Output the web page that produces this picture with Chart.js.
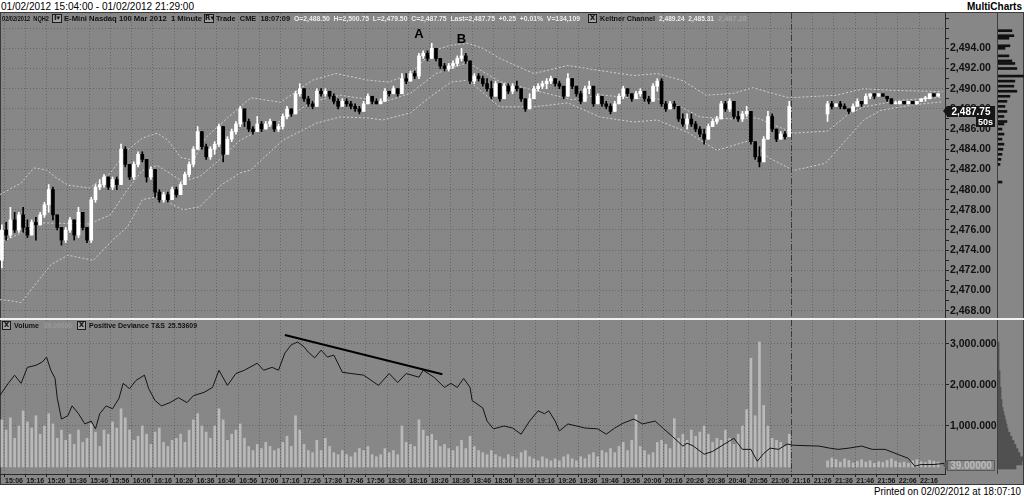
<!DOCTYPE html>
<html>
<head>
<meta charset="utf-8">
<script src="https://cdn.jsdelivr.net/npm/chart.js@4.4.1/dist/chart.umd.min.js"></script>
<style>
  html, body { margin: 0; padding: 0; background: #fff; }
  body { position: relative; width: 1024px; height: 497px; overflow: hidden; font-family: 'Liberation Sans', Arial, sans-serif; }
  #frame { position: absolute; left: 0; top: 12px; width: 1022px; height: 471px; background: #878787; border: 1px solid #3a3a3a; }
  canvas { position: absolute; }
  .t { position: absolute; white-space: pre; line-height: 1; transform-origin: 0 50%; }
  .box { position: absolute; box-sizing: border-box; border: 1px solid #1c1c1c; background: #a2a2a2; color: #111;
         font: bold 7px 'DejaVu Sans', sans-serif; text-align: center; }
  .line { position: absolute; }
</style>
</head>
<body>
<div id="frame"></div>
<canvas id="price" width="997" height="305" style="left:0;top:13px"></canvas>
<canvas id="priceProfile" width="26" height="305" style="left:998px;top:13px"></canvas>
<canvas id="lower" width="997" height="165" style="left:0;top:320px"></canvas>
<canvas id="lowerProfile" width="26" height="154" style="left:998px;top:320px"></canvas>
<div class="line" style="left:0;top:318px;width:1024px;height:2px;background:#f2f2f2"></div>
<div class="line" style="left:997px;top:13px;width:1px;height:305px;background:#3e3e3e"></div>
<div class="line" style="left:997px;top:320px;width:1px;height:154px;background:#3e3e3e"></div>
<script>
// 2-minute bars, two sessions (gap between 21:16 and 21:33)
const barMinutes = 2;
const sessionStarts = ['15:05', '21:33'];
const sessionLengths = [186, 27];

const opens = [
  2473.0, 2476.0, 2475.5, 2477.0, 2476.0, 2477.5, 2476.25, 2475.5, 2476.75, 2476.5,
  2477.5, 2478.5, 2480.0, 2477.5, 2476.25, 2475.0, 2476.0, 2477.0, 2475.5, 2477.75,
  2476.25, 2475.0, 2479.0, 2480.25, 2480.5, 2481.25, 2480.25, 2481.0, 2480.5, 2484.0,
  2482.5, 2481.25, 2482.5, 2483.5, 2483.0, 2481.25, 2482.0, 2479.75, 2479.0, 2479.5,
  2479.0, 2480.0, 2479.5, 2480.5, 2481.5, 2482.5, 2484.0, 2485.75, 2484.25, 2483.25,
  2484.0, 2484.5, 2486.25, 2483.5, 2485.0, 2485.75, 2486.5, 2488.0, 2486.75, 2486.0,
  2485.75, 2486.5, 2486.0, 2486.5, 2486.75, 2486.0, 2486.25, 2487.25, 2488.0, 2487.5,
  2489.5, 2490.0, 2489.0, 2488.5, 2488.25, 2489.75, 2489.5, 2489.75, 2489.25, 2488.75,
  2488.25, 2488.75, 2488.5, 2488.25, 2488.0, 2487.75, 2488.5, 2489.25, 2488.75, 2488.5,
  2488.75, 2489.75, 2489.5, 2490.0, 2489.5, 2491.0, 2490.75, 2491.5, 2491.25, 2493.25,
  2493.5, 2493.0, 2494.0, 2493.0, 2492.25, 2492.0, 2492.25, 2492.5, 2493.0, 2493.25,
  2492.75, 2490.75, 2491.25, 2491.0, 2490.5, 2490.0, 2489.25, 2490.5, 2489.0, 2490.25,
  2489.75, 2490.25, 2490.0, 2489.0, 2488.0, 2489.0, 2490.0, 2490.25, 2490.5, 2490.75,
  2491.0, 2490.5, 2490.25, 2489.25, 2491.0, 2490.25, 2489.5, 2488.75, 2490.0, 2490.25,
  2488.5, 2489.25, 2488.5, 2488.25, 2487.75, 2488.5, 2489.25, 2490.0, 2489.5, 2489.0,
  2489.5, 2489.75, 2489.0, 2488.75, 2490.25, 2490.75, 2488.5, 2488.0, 2488.5, 2488.25,
  2487.0, 2486.5, 2487.0, 2486.5, 2486.0, 2485.5, 2485.0, 2486.25, 2486.75, 2487.0,
  2488.5, 2488.0, 2488.75, 2487.25, 2487.0, 2487.5, 2487.75, 2484.75, 2483.25, 2482.75,
  2485.0, 2487.25, 2486.0, 2485.0, 2485.5, 2485.25,
  2487.5, 2488.5, 2488.25, 2488.5, 2488.25, 2488.0, 2487.75, 2488.25, 2488.75, 2488.5,
  2489.25, 2489.5, 2489.25, 2489.5, 2489.25, 2489.0, 2488.5, 2488.5, 2488.75, 2488.5,
  2488.75, 2488.5, 2488.75, 2489.0, 2489.0, 2489.5, 2489.25
];
const highs = [
  2476.5, 2476.75, 2478.25, 2477.75, 2477.75, 2478.25, 2477.0, 2477.0, 2477.25, 2477.75,
  2478.75, 2480.5, 2480.25, 2477.5, 2476.25, 2476.25, 2477.25, 2477.0, 2478.25, 2477.75,
  2476.25, 2479.25, 2480.5, 2481.0, 2481.5, 2481.25, 2481.25, 2481.25, 2484.5, 2484.25,
  2482.5, 2482.75, 2483.75, 2483.75, 2483.0, 2482.25, 2482.0, 2480.0, 2479.75, 2479.75,
  2480.25, 2480.25, 2480.75, 2481.75, 2482.75, 2484.25, 2486.25, 2485.75, 2484.5, 2484.25,
  2484.75, 2486.5, 2486.25, 2485.25, 2486.0, 2486.75, 2488.25, 2488.0, 2487.0, 2486.25,
  2487.25, 2486.75, 2486.75, 2487.0, 2486.75, 2486.5, 2487.5, 2488.25, 2488.0, 2489.75,
  2490.5, 2490.0, 2489.25, 2488.75, 2490.0, 2490.0, 2490.0, 2489.75, 2489.5, 2489.0,
  2489.0, 2489.0, 2488.75, 2488.5, 2488.25, 2488.75, 2489.5, 2489.25, 2489.0, 2489.0,
  2490.0, 2489.75, 2490.25, 2490.0, 2491.5, 2491.5, 2491.75, 2491.75, 2493.5, 2493.75,
  2493.75, 2494.5, 2494.0, 2493.0, 2492.5, 2492.5, 2492.75, 2493.25, 2494.0, 2493.5,
  2492.75, 2491.5, 2491.5, 2491.25, 2491.0, 2490.75, 2490.75, 2490.5, 2490.5, 2490.5,
  2490.5, 2490.75, 2490.0, 2489.0, 2489.5, 2490.25, 2490.5, 2490.75, 2491.0, 2491.25,
  2491.0, 2490.75, 2490.25, 2491.5, 2491.0, 2490.25, 2489.75, 2490.25, 2490.75, 2490.25,
  2489.5, 2489.25, 2488.75, 2488.5, 2488.75, 2489.5, 2490.25, 2490.0, 2489.5, 2489.75,
  2490.0, 2489.75, 2489.25, 2490.5, 2491.0, 2491.0, 2488.75, 2488.75, 2488.75, 2488.25,
  2487.5, 2487.5, 2487.5, 2486.75, 2486.25, 2486.0, 2486.5, 2487.0, 2487.25, 2488.75,
  2488.75, 2489.0, 2488.75, 2487.75, 2487.75, 2488.25, 2487.75, 2484.75, 2484.25, 2485.25,
  2487.75, 2487.5, 2486.0, 2485.75, 2485.75, 2488.75,
  2488.75, 2488.75, 2488.5, 2488.75, 2488.5, 2488.0, 2488.5, 2489.0, 2488.75, 2489.5,
  2489.5, 2489.5, 2489.5, 2489.5, 2489.25, 2489.0, 2488.75, 2488.75, 2488.75, 2488.75,
  2488.75, 2488.75, 2489.0, 2489.25, 2489.5, 2489.5, 2489.5
];
const lows = [
  2472.25, 2475.0, 2475.25, 2475.75, 2475.75, 2475.75, 2475.25, 2475.5, 2475.0, 2476.5,
  2477.25, 2477.75, 2477.0, 2476.0, 2474.5, 2474.75, 2475.75, 2475.0, 2475.25, 2476.0,
  2474.75, 2474.75, 2478.75, 2480.0, 2480.25, 2480.0, 2480.0, 2480.0, 2480.5, 2482.25,
  2481.0, 2481.0, 2482.25, 2482.75, 2480.75, 2481.0, 2479.25, 2478.75, 2478.75, 2478.75,
  2479.0, 2479.25, 2479.5, 2480.5, 2481.25, 2482.25, 2484.0, 2484.0, 2483.0, 2483.0,
  2483.5, 2484.25, 2482.75, 2483.5, 2484.75, 2485.5, 2486.25, 2486.25, 2485.75, 2485.5,
  2485.75, 2485.75, 2486.0, 2486.25, 2485.75, 2485.75, 2486.0, 2487.0, 2487.25, 2487.5,
  2489.25, 2488.75, 2488.25, 2488.0, 2488.25, 2489.25, 2489.25, 2489.0, 2488.5, 2488.0,
  2488.25, 2488.25, 2488.0, 2487.75, 2487.5, 2487.75, 2488.5, 2488.5, 2488.5, 2488.5,
  2488.75, 2489.25, 2489.5, 2489.25, 2489.5, 2490.5, 2490.75, 2491.0, 2491.0, 2493.0,
  2492.75, 2493.0, 2492.75, 2492.0, 2491.75, 2491.75, 2492.0, 2492.25, 2492.75, 2492.5,
  2490.5, 2490.5, 2490.75, 2490.25, 2489.75, 2489.0, 2489.25, 2488.75, 2489.0, 2489.5,
  2489.5, 2489.75, 2488.75, 2487.75, 2488.0, 2489.0, 2489.75, 2490.0, 2490.0, 2490.5,
  2490.25, 2490.0, 2489.0, 2489.25, 2490.0, 2489.25, 2488.5, 2488.75, 2489.5, 2488.25,
  2488.5, 2488.25, 2488.0, 2487.5, 2487.75, 2488.5, 2489.0, 2489.25, 2488.75, 2489.0,
  2489.25, 2488.75, 2488.5, 2488.75, 2489.75, 2488.25, 2487.75, 2488.0, 2488.0, 2486.75,
  2486.25, 2486.0, 2486.25, 2485.75, 2485.25, 2484.5, 2485.0, 2486.25, 2486.5, 2487.0,
  2487.75, 2487.75, 2487.0, 2486.75, 2486.75, 2487.25, 2484.5, 2483.0, 2482.25, 2482.75,
  2485.0, 2485.75, 2484.75, 2485.0, 2485.0, 2485.25,
  2486.75, 2488.0, 2488.25, 2488.0, 2488.0, 2487.5, 2487.75, 2488.25, 2488.25, 2488.5,
  2489.0, 2489.0, 2489.25, 2489.25, 2488.75, 2488.5, 2488.5, 2488.5, 2488.5, 2488.5,
  2488.5, 2488.5, 2488.75, 2488.75, 2489.0, 2489.25, 2489.25
];
const closes = [
  2476.0, 2475.5, 2477.0, 2476.0, 2477.5, 2476.25, 2475.5, 2476.75, 2476.5, 2477.5,
  2478.5, 2480.0, 2477.5, 2476.25, 2475.0, 2476.0, 2477.0, 2475.5, 2477.75, 2476.25,
  2475.0, 2479.0, 2480.25, 2480.5, 2481.25, 2480.25, 2481.0, 2480.5, 2484.0, 2482.5,
  2481.25, 2482.5, 2483.5, 2483.0, 2481.25, 2482.0, 2479.75, 2479.0, 2479.5, 2479.0,
  2480.0, 2479.5, 2480.5, 2481.5, 2482.5, 2484.0, 2485.75, 2484.25, 2483.25, 2484.0,
  2484.5, 2486.25, 2483.5, 2485.0, 2485.75, 2486.5, 2488.0, 2486.75, 2486.0, 2485.75,
  2486.5, 2486.0, 2486.5, 2486.75, 2486.0, 2486.25, 2487.25, 2488.0, 2487.5, 2489.5,
  2490.0, 2489.0, 2488.5, 2488.25, 2489.75, 2489.5, 2489.75, 2489.25, 2488.75, 2488.25,
  2488.75, 2488.5, 2488.25, 2488.0, 2487.75, 2488.5, 2489.25, 2488.75, 2488.5, 2488.75,
  2489.75, 2489.5, 2490.0, 2489.5, 2491.0, 2490.75, 2491.5, 2491.25, 2493.25, 2493.5,
  2493.0, 2494.0, 2493.0, 2492.25, 2492.0, 2492.25, 2492.5, 2493.0, 2493.25, 2492.75,
  2490.75, 2491.25, 2491.0, 2490.5, 2490.0, 2489.25, 2490.5, 2489.0, 2490.25, 2489.75,
  2490.25, 2490.0, 2489.0, 2488.0, 2489.0, 2490.0, 2490.25, 2490.5, 2490.75, 2491.0,
  2490.5, 2490.25, 2489.25, 2491.0, 2490.25, 2489.5, 2488.75, 2490.0, 2490.25, 2488.5,
  2489.25, 2488.5, 2488.25, 2487.75, 2488.5, 2489.25, 2490.0, 2489.5, 2489.0, 2489.5,
  2489.75, 2489.0, 2488.75, 2490.25, 2490.75, 2488.5, 2488.0, 2488.5, 2488.25, 2487.0,
  2486.5, 2487.0, 2486.5, 2486.0, 2485.5, 2485.0, 2486.25, 2486.75, 2487.0, 2488.5,
  2488.0, 2488.75, 2487.25, 2487.0, 2487.5, 2487.75, 2484.75, 2483.25, 2482.75, 2485.0,
  2487.25, 2486.0, 2485.0, 2485.5, 2485.25, 2488.25,
  2488.5, 2488.25, 2488.5, 2488.25, 2488.0, 2487.75, 2488.25, 2488.75, 2488.5, 2489.25,
  2489.5, 2489.25, 2489.5, 2489.25, 2489.0, 2488.5, 2488.5, 2488.75, 2488.5, 2488.75,
  2488.5, 2488.75, 2489.0, 2489.0, 2489.5, 2489.25, 2489.5
];
const volumes = [
  1150, 900, 1200, 700, 1000, 1370, 1100, 950, 1250, 800,
  1000, 1300, 1050, 700, 900, 650, 800, 550, 900, 600,
  700, 1050, 850, 500, 900, 800, 1100, 950, 1420, 1200,
  900, 650, 750, 1000, 800, 550, 850, 950, 600, 500,
  650, 700, 800, 600, 900, 1150, 1300, 1000, 850, 700,
  1000, 1420, 1150, 650, 800, 900, 1050, 700, 500, 400,
  550, 450, 600, 500, 400, 450, 600, 750, 500, 1250,
  900, 550, 400, 350, 650, 400, 700, 500, 350, 300,
  400, 300, 250, 350, 450, 400, 500, 300, 250, 300,
  450, 350, 400, 300, 1000, 600, 550, 500, 1150, 900,
  750, 800, 650, 500, 550, 450, 400, 500, 650, 450,
  750, 500, 400, 350, 300, 400, 300, 250, 200, 300,
  250, 200, 350, 400, 250, 200, 150, 250, 200, 150,
  200, 150, 250, 300, 200, 150, 250, 200, 300, 350,
  250, 400, 350, 450, 350, 500, 600, 400, 650, 1270,
  500, 400, 300, 350, 600, 650, 550, 450, 1180, 700,
  800, 650, 900, 750, 850, 1000, 800, 600, 700, 650,
  900, 700, 550, 800, 1000, 1400, 2650, 1250, 3050, 1500,
  1000, 700, 650, 600, 500, 800,
  150, 220, 180, 120, 200, 160, 100, 140, 180, 120,
  150, 90, 130, 110, 160, 200, 140, 100, 120, 90,
  150, 180, 130, 110, 160, 140, 120
];

// Keltner channel
const upperTimes = ['15:04','15:14','15:20','15:26','15:30','15:36','15:46','15:56','16:04','16:11',
  '16:18','16:23','16:29','16:35','16:41','16:51','16:57','17:02','17:16','17:31',
  '17:42','17:57','18:07','18:17','18:28','18:36','18:44','18:51','18:59','19:15',
  '19:31','19:46','20:02','20:13','20:25','20:36','20:49','20:58','21:07','21:15',
  '21:37','21:50','22:02','22:27'];
const upperValues = [2479.5, 2480.65, 2482.15, 2481.95, 2481.25, 2480.45, 2480.15, 2481.65, 2483.9, 2485.1,
  2485.6, 2484.9, 2483.2, 2482.9, 2485.2, 2487.1, 2488.2, 2489.1, 2488.65, 2490.85,
  2491.5, 2490.85, 2490.65, 2491.5, 2493.8, 2494.3, 2494.5, 2494.0, 2493.0, 2491.5,
  2492.3, 2491.8, 2491.3, 2491.5, 2490.8, 2489.35, 2489.55, 2490.1, 2489.55, 2489.1,
  2489.35, 2490.0, 2489.85, 2489.7];
const middleTimes = ['15:04','15:24','15:46','15:56','16:04','16:11','16:18','16:30','16:38','16:47',
  '16:57','17:06','17:17','17:31','17:44','17:57','18:07','18:17','18:29','18:44',
  '18:59','19:15','19:33','19:46','20:02','20:13','20:25','20:33','20:49','21:00',
  '21:17','21:33','21:42','21:50','22:07','22:27'];
const middleValues = [2474.7, 2476.7, 2476.6, 2477.5, 2480.0, 2481.9, 2482.4, 2480.8, 2481.3, 2482.9,
  2484.9, 2485.9, 2486.9, 2488.7, 2489.35, 2488.95, 2488.85, 2489.55, 2491.5, 2492.6,
  2490.7, 2489.85, 2488.9, 2489.4, 2489.05, 2489.0, 2488.1, 2487.2, 2487.0, 2487.1,
  2485.6, 2485.8, 2487.35, 2488.2, 2488.85, 2489.15];
const lowerTimes = ['15:04','15:09','15:14','15:28','15:36','15:48','15:57','16:04','16:11','16:18',
  '16:30','16:38','16:48','16:57','17:02','17:17','17:33','17:44','17:57','18:04',
  '18:17','18:26','18:36','18:44','18:59','19:15','19:31','19:46','20:02','20:13',
  '20:27','20:41','20:49','20:57','21:05','21:17','21:32','21:50','21:58','22:13',
  '22:27'];
const lowerValues = [2469.1, 2469.0, 2468.8, 2472.55, 2473.5, 2473.0, 2475.0, 2476.3, 2479.0, 2479.3,
  2478.0, 2478.3, 2480.45, 2481.65, 2481.95, 2484.9, 2486.6, 2487.2, 2487.1, 2486.9,
  2487.6, 2489.15, 2490.65, 2490.85, 2488.2, 2488.2, 2488.6, 2487.2, 2486.7, 2486.9,
  2485.7, 2483.9, 2484.4, 2484.9, 2483.2, 2481.9, 2482.6, 2486.9, 2487.85, 2488.4,
  2488.7];

// Positive Deviance T&S
const devTimes = ['15:04','15:08','15:11','15:14','15:17','15:21','15:24','15:26','15:28','15:30',
  '15:31','15:33','15:36','15:38','15:41','15:44','15:47','15:49','15:51','15:54',
  '15:57','16:00','16:02','16:05','16:08','16:12','16:14','16:17','16:20','16:24',
  '16:28','16:32','16:35','16:40','16:44','16:47','16:51','16:55','16:59','17:05',
  '17:08','17:12','17:15','17:18','17:21','17:24','17:27','17:29','17:32','17:35',
  '17:38','17:41','17:45','17:49','17:55','18:02','18:07','18:11','18:15','18:21',
  '18:23','18:28','18:33','18:36','18:39','18:42','18:45','18:46','18:51','18:53',
  '18:56','19:01','19:05','19:09','19:13','19:17','19:20','19:22','19:25','19:27',
  '19:31','19:35','19:39','19:45','19:49','19:53','19:57','20:02','20:06','20:12',
  '20:16','20:20','20:25','20:27','20:30','20:35','20:39','20:43','20:49','20:53',
  '20:57','21:00','21:03','21:06','21:10','21:14','21:17','21:29','21:34','21:38',
  '21:43','21:49','21:54','22:00','22:06','22:11','22:14','22:17','22:23','22:28'];
const devValues = [1740, 2040, 2240, 2040, 2430, 2480, 2560, 2680, 2360, 2160,
  1690, 1170, 1250, 1490, 1300, 1050, 1120, 930, 1300, 1490,
  1420, 1670, 2040, 1910, 2110, 2240, 1910, 1620, 1490, 1570,
  1690, 1570, 1740, 1820, 1940, 2360, 1990, 2280, 2360, 2530,
  2360, 2430, 2360, 2780, 2980, 3050, 2930, 2800, 2660, 2850,
  2680, 2730, 2310, 2280, 2240, 1990, 2280, 2060, 2280, 2190,
  2360, 2190, 1940, 2040, 1940, 2160, 1940, 1620, 1440, 1120,
  930, 1000, 950, 800, 1120, 1370, 1300, 1370, 1120, 880,
  1050, 1000, 950, 930, 800, 950, 1070, 1170, 1050, 1120,
  930, 750, 510, 580, 510, 310, 380, 510, 700, 430,
  430, 140, 330, 460, 430, 560, 530, 510, 460, 430,
  460, 510, 430, 430, 310, 210, 20, 60, 60, 90];
const trendTimes = ['17:18', '18:32'];
const trendValues = [3220, 2260];

// right-edge volume profiles
const profilePrices = [2495.75, 2495.25, 2495.0, 2494.25, 2494.0, 2493.25, 2492.75, 2492.5, 2492.0, 2491.25,
  2490.75, 2490.25, 2489.75, 2489.25, 2488.75, 2488.25, 2487.75, 2487.25, 2486.75, 2486.5,
  2486.0, 2485.5, 2485.0, 2484.5, 2484.0, 2483.5, 2483.0, 2482.5, 2480.75];
const profileVolumes = [560, 640, 440, 480, 280, 440, 560, 680, 760, 1040,
  680, 640, 760, 480, 360, 280, 360, 240, 360, 240,
  160, 240, 160, 240, 200, 160, 120, 80, 160];
const devProfileLevels = [0, 100, 200, 300, 400, 500, 600, 700, 800, 900, 1000, 1100, 1200, 1300, 1400, 1500,
  1600, 1700, 1800, 1900, 2000, 2100, 2200, 2300, 2400, 2500, 2600, 2700, 2800, 2900, 3000];
const devProfileCounts = [180, 240, 250, 220, 200, 180, 160, 140, 120, 100, 90, 80, 70, 60, 50, 40,
  40, 30, 30, 30, 20, 20, 20, 20, 10, 10, 10, 10, 10, 10, 10];

const timeLabels = ['15:06','15:16','15:26','15:36','15:46','15:56','16:06','16:16','16:26','16:36','16:46',
  '16:56','17:06','17:16','17:26','17:36','17:46','17:56','18:06','18:16','18:26','18:36','18:46',
  '18:56','19:06','19:16','19:26','19:36','19:46','19:56','20:06','20:16','20:26','20:36','20:46',
  '20:56','21:06','21:16','21:26','21:36','21:46','21:56','22:06','22:16'];

const sessionBreak = '21:16';
const lastPrice = 2487.75;
const lastVolume = 39;
const peakLabels = ['A', 'B'];
const peakTimes = ['18:21', '18:41'];
const peakPrices = [2495.5, 2495.0];

// ---------------------------------------------------------------
const toMin = t => { const [h, m] = t.split(':').map(Number); return (h - 15) * 60 + m; };
const pts = (times, vals) => times.map((t, i) => ({ x: toMin(t), y: vals[i] }));

const barTimes = [];
sessionStarts.forEach((s, k) => {
  for (let i = 0; i < sessionLengths[k]; i++) barTimes.push(toMin(s) + i * barMinutes);
});

const X_MIN = 4.12, X_MAX = 448.2;
const PRICE_MIN = 2467.28, PRICE_MAX = 2497.5;
const DEV_MIN = -171, DEV_MAX = 3585;
const gridColor = 'rgba(40,40,40,0.35)';

Chart.defaults.font.family = "'Liberation Sans', Arial, sans-serif";

const barColor = ctx => closes[ctx.dataIndex] >= opens[ctx.dataIndex] ? '#ffffff' : '#000000';

const breakLine = {
  id: 'breakLine',
  afterDatasetsDraw(chart) {
    const { ctx, chartArea, scales } = chart;
    const x = Math.round(scales.x.getPixelForValue(toMin(sessionBreak))) + 0.5;
    ctx.save();
    ctx.strokeStyle = '#3a3a3a';
    ctx.lineWidth = 1;
    ctx.setLineDash([6, 2, 1, 2]);
    ctx.beginPath();
    ctx.moveTo(x, chartArea.top);
    ctx.lineTo(x, chartArea.bottom);
    ctx.stroke();
    ctx.restore();
  }
};

const timeAxis = (showLabels) => ({
  type: 'linear', min: X_MIN, max: X_MAX, offset: false,
  afterBuildTicks: s => { s.ticks = timeLabels.map(t => ({ value: toMin(t) })); },
  afterFit: s => { s.height = showLabels ? 11 : 0; s.paddingLeft = 0; s.paddingRight = 0; },
  ticks: {
    display: showLabels, autoSkip: false, maxRotation: 0, padding: 0, labelOffset: 10,
    color: '#151515', font: { size: 7, weight: 'bold' },
    callback: (v, i) => timeLabels[i]
  },
  grid: { offset: false, color: gridColor, drawTicks: showLabels, tickLength: 3, tickColor: '#222' },
  border: { display: showLabels, color: '#2a2a2a', dash: [1, 2] }
});

const priceTicks = [];
for (let p = 2468; p <= 2497; p++) priceTicks.push(p);

const priceChart = new Chart(document.getElementById('price'), {
  type: 'bar',
  data: {
    datasets: [
      { type: 'line', data: pts(upperTimes, upperValues), borderColor: '#cfcfcf', borderWidth: 1, borderDash: [2, 2], pointRadius: 0, order: 3 },
      { type: 'line', data: pts(middleTimes, middleValues), borderColor: '#cfcfcf', borderWidth: 1, borderDash: [2, 2], pointRadius: 0, order: 3 },
      { type: 'line', data: pts(lowerTimes, lowerValues), borderColor: '#cfcfcf', borderWidth: 1, borderDash: [2, 2], pointRadius: 0, order: 3 },
      { data: barTimes.map((m, i) => ({ x: m, y: [lows[i], highs[i]] })), backgroundColor: barColor,
        barThickness: 1, grouped: false, order: 2 },
      { data: barTimes.map((m, i) => ({ x: m, y: [opens[i], closes[i]] })), backgroundColor: barColor,
        barThickness: 3, minBarLength: 1, grouped: false, order: 1 }
    ]
  },
  options: {
    responsive: false, animation: false, devicePixelRatio: 1,
    layout: { padding: 0 },
    plugins: { legend: { display: false }, tooltip: { enabled: false } },
    scales: {
      x: timeAxis(false),
      y: {
        type: 'linear', position: 'right', min: PRICE_MIN, max: PRICE_MAX,
        afterBuildTicks: s => { s.ticks = priceTicks.map(v => ({ value: v })); },
        afterFit: s => { s.width = 52; s.paddingTop = 0; s.paddingBottom = 0; },
        ticks: {
          autoSkip: false, padding: 1, color: '#111', font: { size: 10.5, weight: 'bold' },
          callback: v => (v % 2 === 0 && v <= 2494) ? v.toLocaleString('en-US', { minimumFractionDigits: 2 }) : ''
        },
        grid: { color: c => c.tick && c.tick.value % 2 === 0 ? gridColor : 'rgba(0,0,0,0)', tickLength: 4, tickColor: '#222' },
        border: { display: true, color: '#2a2a2a', dash: [1, 2] }
      }
    }
  },
  plugins: [breakLine]
});

const lowerChart = new Chart(document.getElementById('lower'), {
  type: 'bar',
  data: {
    datasets: [
      { data: barTimes.map((m, i) => ({ x: m, y: volumes[i] })), backgroundColor: '#b9b9b9', barThickness: 2, grouped: false, order: 3 },
      { type: 'line', data: pts(devTimes, devValues), borderColor: '#141414', borderWidth: 1, pointRadius: 0, order: 2 },
      { type: 'line', data: pts(trendTimes, trendValues), borderColor: '#000', borderWidth: 2, pointRadius: 0, order: 1 }
    ]
  },
  options: {
    responsive: false, animation: false, devicePixelRatio: 1,
    layout: { padding: 0 },
    plugins: { legend: { display: false }, tooltip: { enabled: false } },
    scales: {
      x: timeAxis(true),
      y: {
        type: 'linear', position: 'right', min: DEV_MIN, max: DEV_MAX,
        afterBuildTicks: s => { s.ticks = [1000, 2000, 3000].map(v => ({ value: v })); },
        afterFit: s => { s.width = 52; s.paddingTop = 0; s.paddingBottom = 0; },
        ticks: {
          autoSkip: false, padding: 1, color: '#111', font: { size: 10.5, weight: 'bold' },
          callback: v => v.toLocaleString('en-US', { minimumFractionDigits: 3 })
        },
        grid: { color: gridColor, tickLength: 4, tickColor: '#222' },
        border: { display: true, color: '#2a2a2a', dash: [1, 2] }
      }
    }
  },
  plugins: [breakLine]
});

const profileOptions = (ymin, ymax, xmax) => ({
  indexAxis: 'y', responsive: false, animation: false, devicePixelRatio: 1,
  layout: { padding: 0 },
  plugins: { legend: { display: false }, tooltip: { enabled: false } },
  scales: {
    x: { type: 'linear', min: 0, max: xmax, display: false },
    y: { type: 'linear', min: ymin, max: ymax, display: false, offset: false }
  }
});

new Chart(document.getElementById('priceProfile'), {
  type: 'bar',
  data: { datasets: [{ data: profilePrices.map((p, i) => ({ x: profileVolumes[i], y: p })), backgroundColor: '#111', barThickness: 2 }] },
  options: profileOptions(PRICE_MIN, PRICE_MAX, 1050)
});

new Chart(document.getElementById('lowerProfile'), {
  type: 'bar',
  data: { datasets: [{ data: devProfileLevels.map((v, i) => ({ x: devProfileCounts[i], y: v })), backgroundColor: '#505050', barThickness: 4 }] },
  options: profileOptions(DEV_MIN, DEV_MAX, 260)
});

// ---------------------------------------------------------------
// texts
function addText(txt, x, yc, opts) {
  const el = document.createElement('div');
  el.className = 't';
  el.textContent = txt;
  el.style.font = opts.font;
  el.style.color = opts.color || '#000';
  document.body.appendChild(el);
  const r = el.getBoundingClientRect();
  let w = r.width;
  if (opts.width) { el.style.transform = `scaleX(${opts.width / w})`; w = opts.width; }
  let left = x;
  if (opts.align === 'right') left = x - w;
  if (opts.align === 'center') left = x - w / 2;
  el.style.left = left + 'px';
  el.style.top = (yc - r.height / 2) + 'px';
  return el;
}
function addBox(txt, x, y, w, h) {
  const el = document.createElement('div');
  el.className = 'box';
  el.textContent = txt;
  el.style.left = x + 'px'; el.style.top = y + 'px';
  el.style.width = w + 'px'; el.style.height = h + 'px';
  el.style.lineHeight = (h - 2) + 'px';
  document.body.appendChild(el);
}

const dark = '#121212', light = '#ececec', faint = '#a3a3a3';
const hdr = "bold 8px 'Liberation Sans', Arial, sans-serif";

addText('01/02/2012 15:04:00 - 01/02/2012 21:29:00', 1, 6, { font: "10px 'Liberation Sans', Arial", color: '#000', width: 193 });
addText('MultiCharts', 1022, 6, { font: "bold 10px 'Liberation Sans', Arial", color: '#000', align: 'right' });
addText('Printed on 02/02/2012 at 18:07:10', 1021, 491, { font: "10px 'Liberation Sans', Arial", color: '#000', align: 'right', width: 147 });

addText('02/02/2012  NQH2', 2, 18.5, { font: hdr, color: dark, width: 47 });
addBox('I\u25BE', 52, 14, 10, 9);
addText('E-Mini Nasdaq 100 Mar 2012  1 Minute', 64, 18.5, { font: hdr, color: dark, width: 138 });
addBox('R\u25BE', 204, 14, 10, 9);
addText('Trade  CME  18:07:09', 216, 18.5, { font: hdr, color: dark, width: 74 });
addText('O=2,488.50  H=2,500.75  L=2,479.50  C=2,487.75  Last=2,487.75  +0.25  +0.01%  V=134,109', 294, 18.5, { font: hdr, color: light, width: 286 });
addBox('X', 588, 14, 9, 9);
addText('Keltner Channel', 600, 18.5, { font: hdr, color: dark, width: 55 });
addText('2,489.24  2,485.31', 659, 18.5, { font: hdr, color: light, width: 55 });
addText('2,487.28', 718, 18.5, { font: hdr, color: faint, width: 29 });

addBox('X', 2, 321, 9, 9);
addText('Volume', 14, 325.5, { font: hdr, color: dark, width: 25 });
addText('39.00000', 44, 325.5, { font: hdr, color: '#9a9a9a', width: 28 });
addBox('X', 77, 321, 9, 9);
addText('Positive Deviance T&S', 89, 325.5, { font: hdr, color: dark, width: 76 });
addText('25.53609', 168, 325.5, { font: hdr, color: dark, width: 29 });

// peak letters
peakLabels.forEach((lbl, i) => {
  const x = priceChart.scales.x.getPixelForValue(toMin(peakTimes[i]));
  const y = 13 + priceChart.scales.y.getPixelForValue(peakPrices[i]);
  addText(lbl, x, y, { font: "bold 13px 'Liberation Sans', Arial", color: '#000', align: 'center' });
});

// last price / last volume markers on the axes
function marker(txt, yc, bg, fg, border, font) {
  const tip = document.createElement('div');
  tip.className = 'line';
  tip.style.cssText += `left:943px;top:${yc - 5.5}px;width:0;height:0;border-top:5.5px solid transparent;border-bottom:5.5px solid transparent;border-right:4px solid ${border};`;
  document.body.appendChild(tip);
  const el = document.createElement('div');
  el.className = 'line';
  el.textContent = txt;
  el.style.cssText += `left:947px;top:${yc - 5.5}px;width:48px;height:11px;box-sizing:border-box;background:${bg};color:${fg};border:1px solid ${border};font:${font};line-height:9px;text-align:center;`;
  document.body.appendChild(el);
}
const priceY = 13 + priceChart.scales.y.getPixelForValue(lastPrice);
marker(lastPrice.toLocaleString('en-US', { minimumFractionDigits: 2 }), priceY, '#151515', '#fff', '#151515', "bold 10px 'Liberation Sans', Arial");
const sec = document.createElement('div');
sec.className = 'line';
sec.textContent = '50s';
sec.style.cssText += `left:976px;top:${priceY + 6}px;width:19px;height:10px;background:#151515;color:#fff;font:bold 9px 'Liberation Sans', Arial;line-height:10px;text-align:center;`;
document.body.appendChild(sec);
const volY = 320 + lowerChart.scales.y.getPixelForValue(lastVolume);
marker(lastVolume.toFixed(5), volY, '#878787', '#bdbdbd', '#5a5a5a', "bold 10px 'Liberation Sans', Arial");
</script>
</body>
</html>
